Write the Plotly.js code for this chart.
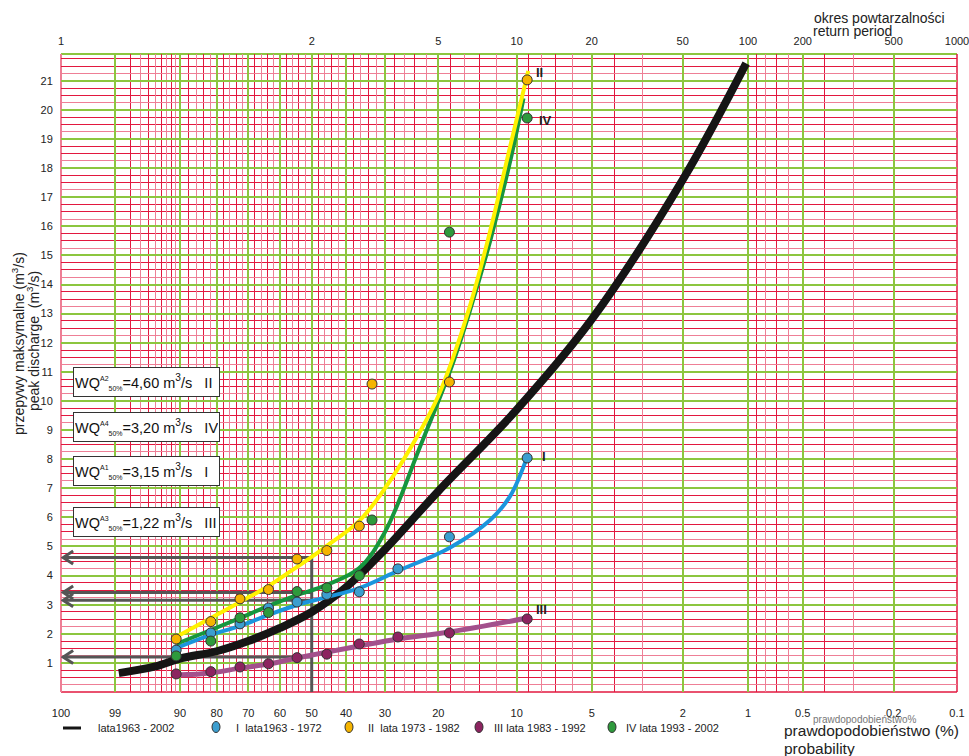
<!DOCTYPE html>
<html><head><meta charset="utf-8">
<script src="https://cdn.plot.ly/plotly-3.0.1.min.js"></script>
<style>html,body{margin:0;padding:0;background:#fff}#chart{width:969px;height:756px}</style>
</head><body><div id="chart"></div>
<script>
// ---------- probability paper scale (printed tick calibration) ----------
const P_LABELS = [100, 99, 90, 80, 70, 60, 50, 40, 30, 20, 10, 5, 2, 1, 0.5, 0.2, 0.1];
const P_LABEL_TEXT = ['100','99','90','80','70','60','50','40','30','20','10','5','2','1','0.5','0.2','0.1'];
const SCALE_POS = [0, 6.03, 13.28, 17.38, 20.90, 24.44, 27.98, 31.81, 36.16, 42.11, 50.86, 59.23, 69.39, 76.67, 82.78, 92.93, 100];
const T_LABELS = [1, 2, 5, 10, 20, 50, 100, 200, 500, 1000];
const P_MINOR_RED = [98,96,94,92, 88,84, 78,74, 68,64, 58,54, 48,44, 38,34, 28,24, 18,14, 9,7, 4, 0.9,0.7, 0.4];
const P_MINOR_PINK = [97,95,93,91, 86,82, 76,72, 66,62, 56,52, 46,42, 36,32, 26,22, 16,12, 8,6, 3, 0.8,0.6, 0.3];
const Q_TICKS = [1,2,3,4,5,6,7,8,9,10,11,12,13,14,15,16,17,18,19,20,21];

// ---------- data ----------
// exceedance probabilities (%) of the 10 yearly maxima in each decade
const P_I   = [90.91, 81.82, 72.73, 63.64, 54.55, 45.45, 36.36, 27.27, 18.18, 9.09];
const Q_I   = [1.44, 2.03, 2.34, 2.89, 3.09, 3.35, 3.44, 4.23, 5.33, 8.04];
const P_II  = [90.91, 81.82, 72.73, 63.64, 54.55, 45.45, 36.36, 33.1, 18.18, 9.09];
const Q_II  = [1.82, 2.42, 3.20, 3.52, 4.57, 4.86, 5.70, 10.58, 10.65, 21.03];
const P_III = [90.91, 81.82, 72.73, 63.64, 54.55, 45.45, 36.36, 27.27, 18.18, 9.09];
const Q_III = [0.62, 0.70, 0.86, 0.97, 1.18, 1.30, 1.65, 1.89, 2.03, 2.51];
const P_IV  = [90.91, 81.82, 72.73, 63.64, 54.55, 45.45, 36.36, 33.1, 18.18, 9.09];
const Q_IV  = [1.24, 1.75, 2.55, 2.73, 3.45, 3.58, 4.00, 5.91, 15.80, 19.72];

// fitted curves
const P_ALL = [98.8, 95, 90, 80, 70, 60, 50, 40, 30, 20, 10, 5, 2, 1.02];
const Q_ALL = [0.65, 0.88, 1.15, 1.40, 1.75, 2.20, 2.75, 3.60, 4.90, 6.90, 9.70, 12.80, 17.60, 21.60];
const P_LINE_II = [90.91, 81.82, 72.73, 63.64, 54.55, 50, 45.45, 36.36, 30, 23, 20, 17.8, 15.2, 12.7, 10.6, 9.0];
const Q_LINE_II = [1.89, 2.54, 3.09, 3.64, 4.30, 4.64, 5.02, 5.88, 7.00, 8.97, 10.17, 11.37, 13.26, 15.84, 18.76, 21.34];
const P_LINE_IV = [90.91, 81.82, 72.73, 63.64, 54.55, 45.45, 36.36, 30, 23, 17.8, 15.2, 12.7, 10.6, 9.4];
const Q_LINE_IV = [1.65, 2.13, 2.54, 2.96, 3.33, 3.68, 4.26, 5.50, 8.45, 11.20, 13.10, 15.50, 18.25, 20.40];
const P_LINE_I = [90.91, 81.82, 72.73, 63.64, 54.55, 45.45, 36.36, 27.27, 18.18, 12.7, 10.6, 9.09];
const Q_LINE_I = [1.51, 1.96, 2.27, 2.65, 2.99, 3.26, 3.57, 4.16, 4.95, 5.91, 6.74, 8.08];
const P_LINE_III = [90.91, 81.82, 72.73, 63.64, 54.55, 45.45, 36.36, 27.27, 18.18, 9.09];
const Q_LINE_III = [0.58, 0.65, 0.82, 0.96, 1.17, 1.37, 1.58, 1.82, 2.06, 2.54];

// median (50%) discharges read with arrows
const WQ_VALUES = [4.62, 3.42, 3.15, 1.20];
const WQ_TEXT = ['4,60', '3,20', '3,15', '1,22'];
const WQ_SUP = ['A2', 'A4', 'A1', 'A3'];
const WQ_ROMAN = ['II', 'IV', 'I', 'III'];

const LEGEND_TEXT = ['lata1963 - 2002', 'I\u00a0\u00a0lata1963 - 1972', 'II\u00a0\u00a0lata 1973 - 1982', 'III lata 1983 - 1992', 'IV lata 1993 - 2002'];

// ---------- scale ----------
function gumbel(p) { const F = 1 - p / 100; return -Math.log(-Math.log(F)); }
function probToU(p) {
  for (let i = 0; i < P_LABELS.length - 1; i++) {
    const a = P_LABELS[i], b = P_LABELS[i + 1];
    if (p <= a + 1e-9 && p >= b - 1e-9) {
      let f;
      if (a >= 100) f = (a - p) / (a - b);
      else { const ga = gumbel(a), gb = gumbel(b); f = (gumbel(p) - ga) / (gb - ga); }
      const v = SCALE_POS[i] + f * (SCALE_POS[i + 1] - SCALE_POS[i]);
      return Math.min(100, Math.max(0, Math.round(v * 1e6) / 1e6));
    }
  }
  return p > 100 ? 0 : 100;
}
const U = arr => arr.map(probToU);

const FONT = '"Liberation Sans", Arial, sans-serif';
const GREEN = '#8cc63f', RED = '#e2183f', PINK = '#ee7f96';
const C_BLACK = '#151515', C_YEL = '#fff200', C_ORG = '#f5b400', C_GRN = '#16963e', C_GRN_M = '#2e9a3c',
      C_BLUE = '#1b95dc', C_BLUE_M = '#3c9ecf', C_PUR = '#a3508c', C_PUR_M = '#8c2460';

const L = 61, R = 957, T = 54, B = 692;
const px = x => (x - L) / (R - L);
const py = y => (B - y) / (B - T);

function lineTrace(P, Q, color, width) {
  return {x: U(P), y: Q, type: 'scatter', mode: 'lines', line: {color: color, width: width, shape: 'spline', smoothing: 1}, hoverinfo: 'skip'};
}
function markTrace(P, Q, color) {
  return {x: U(P), y: Q, type: 'scatter', mode: 'markers',
    marker: {color: color, size: 10, line: {color: '#333', width: 1}}, hoverinfo: 'skip'};
}

const data = [
  lineTrace(P_ALL, Q_ALL, C_BLACK, 8),
  lineTrace(P_LINE_III, Q_LINE_III, C_PUR, 5),
  lineTrace(P_LINE_I, Q_LINE_I, C_BLUE, 4),
  lineTrace(P_LINE_IV, Q_LINE_IV, C_GRN, 4),
  lineTrace(P_LINE_II, Q_LINE_II, C_YEL, 4),
  markTrace(P_III, Q_III, C_PUR_M),
  markTrace(P_I, Q_I, C_BLUE_M),
  markTrace(P_IV, Q_IV, C_GRN_M),
  Object.assign(markTrace(P_II, Q_II, C_ORG), {xaxis: 'x2', yaxis: 'y2'})
];

const shapes = [];
const annotations = [];
// border
shapes.push({type: 'line', xref: 'paper', yref: 'paper', x0: 0, x1: 1, y0: 1, y1: 1, line: {color: GREEN, width: 2}, layer: 'between'});
shapes.push({type: 'line', xref: 'paper', yref: 'paper', x0: 0, x1: 1, y0: 0, y1: 0, line: {color: RED, width: 1.5}, layer: 'between'});
shapes.push({type: 'line', xref: 'paper', yref: 'paper', x0: 0, x1: 0, y0: 0, y1: 1, line: {color: PINK, width: 2}, layer: 'between'});
shapes.push({type: 'line', xref: 'paper', yref: 'paper', x0: 1, x1: 1, y0: 0, y1: 1, line: {color: RED, width: 1.5}, layer: 'between'});

// median drop line + arrows
const U50 = probToU(50), UHEAD = probToU(99.96);
shapes.push({type: 'line', xref: 'x', yref: 'y', x0: U50, x1: U50, y0: 0, y1: Math.max(...WQ_VALUES), line: {color: '#555', width: 3}, layer: 'between'});
WQ_VALUES.forEach(q => {
  shapes.push({type: 'line', xref: 'x', yref: 'y', x0: UHEAD, x1: U50, y0: q, y1: q, line: {color: '#555', width: 3}, layer: 'between'});
  shapes.push({type: 'path', xref: 'x', yref: 'y', xsizemode: 'pixel', ysizemode: 'pixel', xanchor: UHEAD, yanchor: q,
    path: 'M 10,6.5 L 0,0 L 10,-6.5', line: {color: '#555', width: 3}, layer: 'between'});
});

// WQ boxes
const BOX_Y = [381.5, 427, 471, 522];
WQ_VALUES.forEach((q, i) => {
  annotations.push({xref: 'paper', yref: 'paper', x: px(146), y: py(BOX_Y[i]), xanchor: 'center', yanchor: 'middle',
    text: 'WQ<sup><span style="font-size:7px">' + WQ_SUP[i] + '</span></sup><sub><span style="font-size:7px">50%</span></sub>=' + WQ_TEXT[i] + ' m<sup>3</sup>/s\u00a0\u00a0\u00a0' + WQ_ROMAN[i],
    showarrow: false, align: 'left', width: 143, height: 26, bgcolor: '#fff', bordercolor: '#333', borderwidth: 1, borderpad: 1,
    font: {family: FONT, size: 14.5, color: '#111'}});
});

// series labels
const ENDS = [[Q_II, 'II', 12, 7], [Q_IV, 'IV', 18, -2], [Q_I, 'I', 17, 1], [Q_III, 'III', 14, 9]];
ENDS.forEach(e => {
  annotations.push({x: probToU(9.09), y: e[0][9], xref: 'x', yref: 'y', text: '<b>' + e[1] + '</b>', showarrow: false,
    xanchor: 'center', yanchor: 'middle', xshift: e[2], yshift: e[3], font: {family: FONT, size: 13, color: '#222'}});
});

function txt(x, y, text, size, opts) {
  return Object.assign({xref: 'paper', yref: 'paper', x: px(x), y: py(y), text: text, showarrow: false,
    xanchor: 'left', yanchor: 'middle', font: {family: FONT, size: size, color: '#222'}}, opts || {});
}
// axis titles
annotations.push(txt(18, 344, 'przepywy maksymalne (m<sup>3</sup>/s)', 14, {textangle: -90, xanchor: 'center'}));
annotations.push(txt(33, 341, 'peak discharge\u00a0\u00a0(m<sup>3</sup>/s)', 14, {textangle: -90, xanchor: 'center'}));
annotations.push(txt(812, 18, 'okres powtarzalności', 14));
annotations.push(txt(811, 31.5, 'return period', 14));
annotations.push(txt(811, 719, 'prawdopodobieństwo%', 10, {font: {family: FONT, size: 10, color: '#777'}}));
annotations.push(txt(782, 730, 'prawdopodobieństwo (%)', 15.5));
annotations.push(txt(782, 748, 'probability', 15.5));

// manual legend
const LEG_Y = 728;
shapes.push({type: 'line', xref: 'paper', yref: 'paper', x0: px(63), x1: px(81), y0: py(LEG_Y), y1: py(LEG_Y), line: {color: C_BLACK, width: 3}});
const LEG_MARK = [[216, C_BLUE_M], [349, C_ORG], [479, C_PUR_M], [612, C_GRN_M]];
LEG_MARK.forEach(m => {
  shapes.push({type: 'circle', xref: 'paper', yref: 'paper', xsizemode: 'pixel', ysizemode: 'pixel', xanchor: px(m[0]), yanchor: py(LEG_Y - 1),
    x0: -4, x1: 4, y0: -5.5, y1: 5.5, fillcolor: m[1], line: {color: '#333', width: 1}});
});
const LEG_TX = [96, 234, 366, 492, 624];
LEG_TX.forEach((x, i) => annotations.push(txt(x, LEG_Y, LEGEND_TEXT[i], 11)));

const YMAX = 21.92;
const Q_MINOR_RED = [], Q_MINOR_PINK = [];
for (let k = 0; k < 22; k++) { Q_MINOR_PINK.push(k + 0.25); Q_MINOR_RED.push(k + 0.5, k + 0.75); }

const layout = {
  width: 969, height: 756,
  margin: {l: L, r: 969 - R, t: T, b: 756 - B, pad: 0},
  paper_bgcolor: '#fff', plot_bgcolor: '#fff', showlegend: false,
  font: {family: FONT, size: 11, color: '#222'},
  xaxis: {range: [0, 100], tickmode: 'array', tickvals: U(P_LABELS), ticktext: P_LABEL_TEXT,
    showgrid: true, gridcolor: GREEN, gridwidth: 2, zeroline: false, showline: false, ticklabeloverflow: 'allow',
    ticks: 'outside', ticklen: 11, tickcolor: 'rgba(0,0,0,0)', tickfont: {size: 11},
    minor: {tickmode: 'array', tickvals: U(P_MINOR_RED), showgrid: true, gridcolor: RED, gridwidth: 1, ticks: ''}, fixedrange: true},
  xaxis2: {overlaying: 'x', side: 'top', anchor: 'y', range: [0, 100], tickmode: 'array',
    tickvals: T_LABELS.map(t => probToU(100 / t)), ticktext: T_LABELS.map(String), ticklabeloverflow: 'allow',
    showgrid: false, zeroline: false, showline: false, ticks: 'outside', ticklen: 4, tickcolor: 'rgba(0,0,0,0)', tickfont: {size: 11},
    minor: {tickmode: 'array', tickvals: U(P_MINOR_PINK), showgrid: true, gridcolor: PINK, gridwidth: 1, ticks: ''}, fixedrange: true},
  yaxis: {range: [0, YMAX], tickmode: 'array', tickvals: Q_TICKS, showgrid: true, gridcolor: GREEN, gridwidth: 2,
    zeroline: false, showline: false, ticks: 'outside', ticklen: 5, tickcolor: 'rgba(0,0,0,0)', tickfont: {size: 11},
    minor: {tickmode: 'array', tickvals: Q_MINOR_RED, showgrid: true, gridcolor: RED, gridwidth: 1, ticks: ''}, fixedrange: true},
  yaxis2: {overlaying: 'y', side: 'right', anchor: 'x2', range: [0, YMAX], showticklabels: false, showgrid: false, zeroline: false,
    minor: {tickmode: 'array', tickvals: Q_MINOR_PINK, showgrid: true, gridcolor: PINK, gridwidth: 1, ticks: ''}, fixedrange: true},
  shapes: shapes, annotations: annotations
};

Plotly.newPlot('chart', data, layout, {displayModeBar: false, staticPlot: true});
</script></body></html>
